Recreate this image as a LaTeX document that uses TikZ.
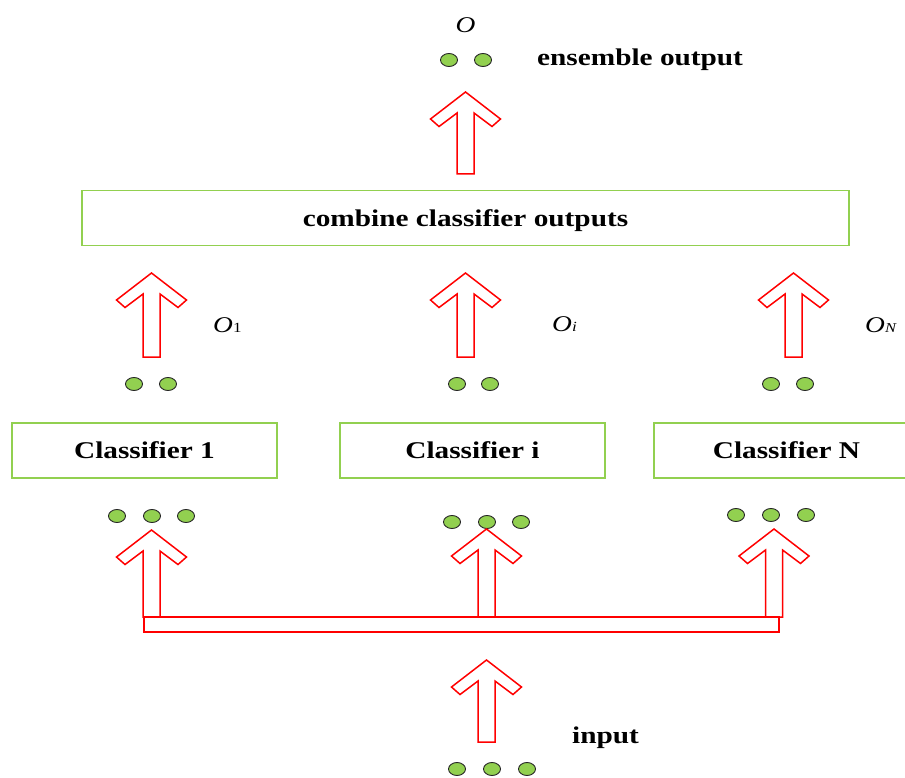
\documentclass[tikz,border=0pt]{standalone}
\usepackage{fontspec}
\setmainfont{Liberation Serif}
\usetikzlibrary{shapes.geometric}
\definecolor{leaf}{HTML}{92D050}
\definecolor{arrowred}{HTML}{FF0000}
% Times-like lettering, slightly widened
\newcommand\wide[1]{\scalebox{1.22}[1]{#1}}
% hollow block arrow: centre x, tip y, shaft bottom y
\newcommand\blockarrow[3]{%
  \draw[hollowarrow] (#1,#2) -- ({#1+35},{#2+27}) -- ({#1+26.5},{#2+34.5})
    -- ({#1+8.5},{#2+21}) -- ({#1+8.5},#3) -- ({#1-8.5},#3)
    -- ({#1-8.5},{#2+21}) -- ({#1-26.5},{#2+34.5}) -- ({#1-35},{#2+27}) -- cycle;}
\begin{document}
\begin{tikzpicture}[x=1pt,y=-1pt,
  hollowarrow/.style={draw=arrowred,line width=1.5pt,line join=miter,fill=white},
  unit/.style={ellipse,draw=black!85,line width=0.9pt,fill=leaf,
    minimum width=17pt,minimum height=13pt,inner sep=0pt},
  stagebox/.style={draw=leaf,line width=1.5pt,inner sep=0pt,minimum height=55pt,
    text depth=0pt,font=\fontsize{24}{28}\selectfont\bfseries},
  caption/.style={inner sep=0pt,font=\fontsize{24}{28}\selectfont\bfseries},
  outlabel/.style={inner sep=0pt,font=\fontsize{22.5}{26}\selectfont\itshape}]
\clip (0,0) rectangle (905,778);
\fill[white] (0,0) rectangle (905,778);

% combining stage and ensemble output
\node[stagebox,minimum width=767pt] (combine) at (465.5,218) {\wide{combine classifier outputs}};
\blockarrow{465.5}{92}{174}
\node[unit] (e1) at (449,60) {};
\node[unit] (e2) at (483,60) {};
\node[outlabel] (olab) at (465.5,25.5) {\wide{O}};
\node[caption,anchor=base west] (enslab) at (537,66) {\wide{ensemble output}};

% classifiers
\node[stagebox,minimum width=265pt] (c1) at (144.5,450.5) {\wide{Classifier 1}};
\node[stagebox,minimum width=265pt] (ci) at (472.5,450.5) {\wide{Classifier i}};
\node[stagebox,minimum width=265pt] (cn) at (786.5,450.5) {\wide{Classifier N}};

% classifier outputs
\blockarrow{151.5}{273}{357}
\blockarrow{465.5}{273}{357}
\blockarrow{793.5}{273}{357}
\node[unit] (a1) at (134,384) {};
\node[unit] (a2) at (168,384) {};
\node[unit] (b1) at (457,384) {};
\node[unit] (b2) at (490,384) {};
\node[unit] (n1) at (771,384) {};
\node[unit] (n2) at (805,384) {};
\node[outlabel,anchor=west] (o1) at (213,325) {\wide{O{\fontsize{14}{16}\selectfont\upshape 1}}};
\node[outlabel,anchor=west] (oi) at (552,324) {\wide{O{\fontsize{14}{16}\selectfont i}}};
\node[outlabel,anchor=west] (on) at (865,325) {\wide{O{\fontsize{13.5}{16}\selectfont N}}};

% classifier inputs
\node[unit] (p1) at (117,516) {};
\node[unit] (p2) at (152,516) {};
\node[unit] (p3) at (186,516) {};
\node[unit] (q1) at (452,522) {};
\node[unit] (q2) at (487,522) {};
\node[unit] (q3) at (521,522) {};
\node[unit] (r1) at (736,515) {};
\node[unit] (r2) at (771,515) {};
\node[unit] (r3) at (806,515) {};
\blockarrow{151.5}{530}{617}
\blockarrow{486.5}{529}{617}
\blockarrow{774}{529}{617}

% distribution bar
\draw[hollowarrow] (144,617) rectangle (779,632);

% shared input
\blockarrow{486.5}{660}{742}
\node[unit] (i1) at (457,769) {};
\node[unit] (i2) at (492,769) {};
\node[unit] (i3) at (527,769) {};
\node[caption,anchor=base west] (inlab) at (572,743) {\wide{input}};
\end{tikzpicture}
\end{document}
